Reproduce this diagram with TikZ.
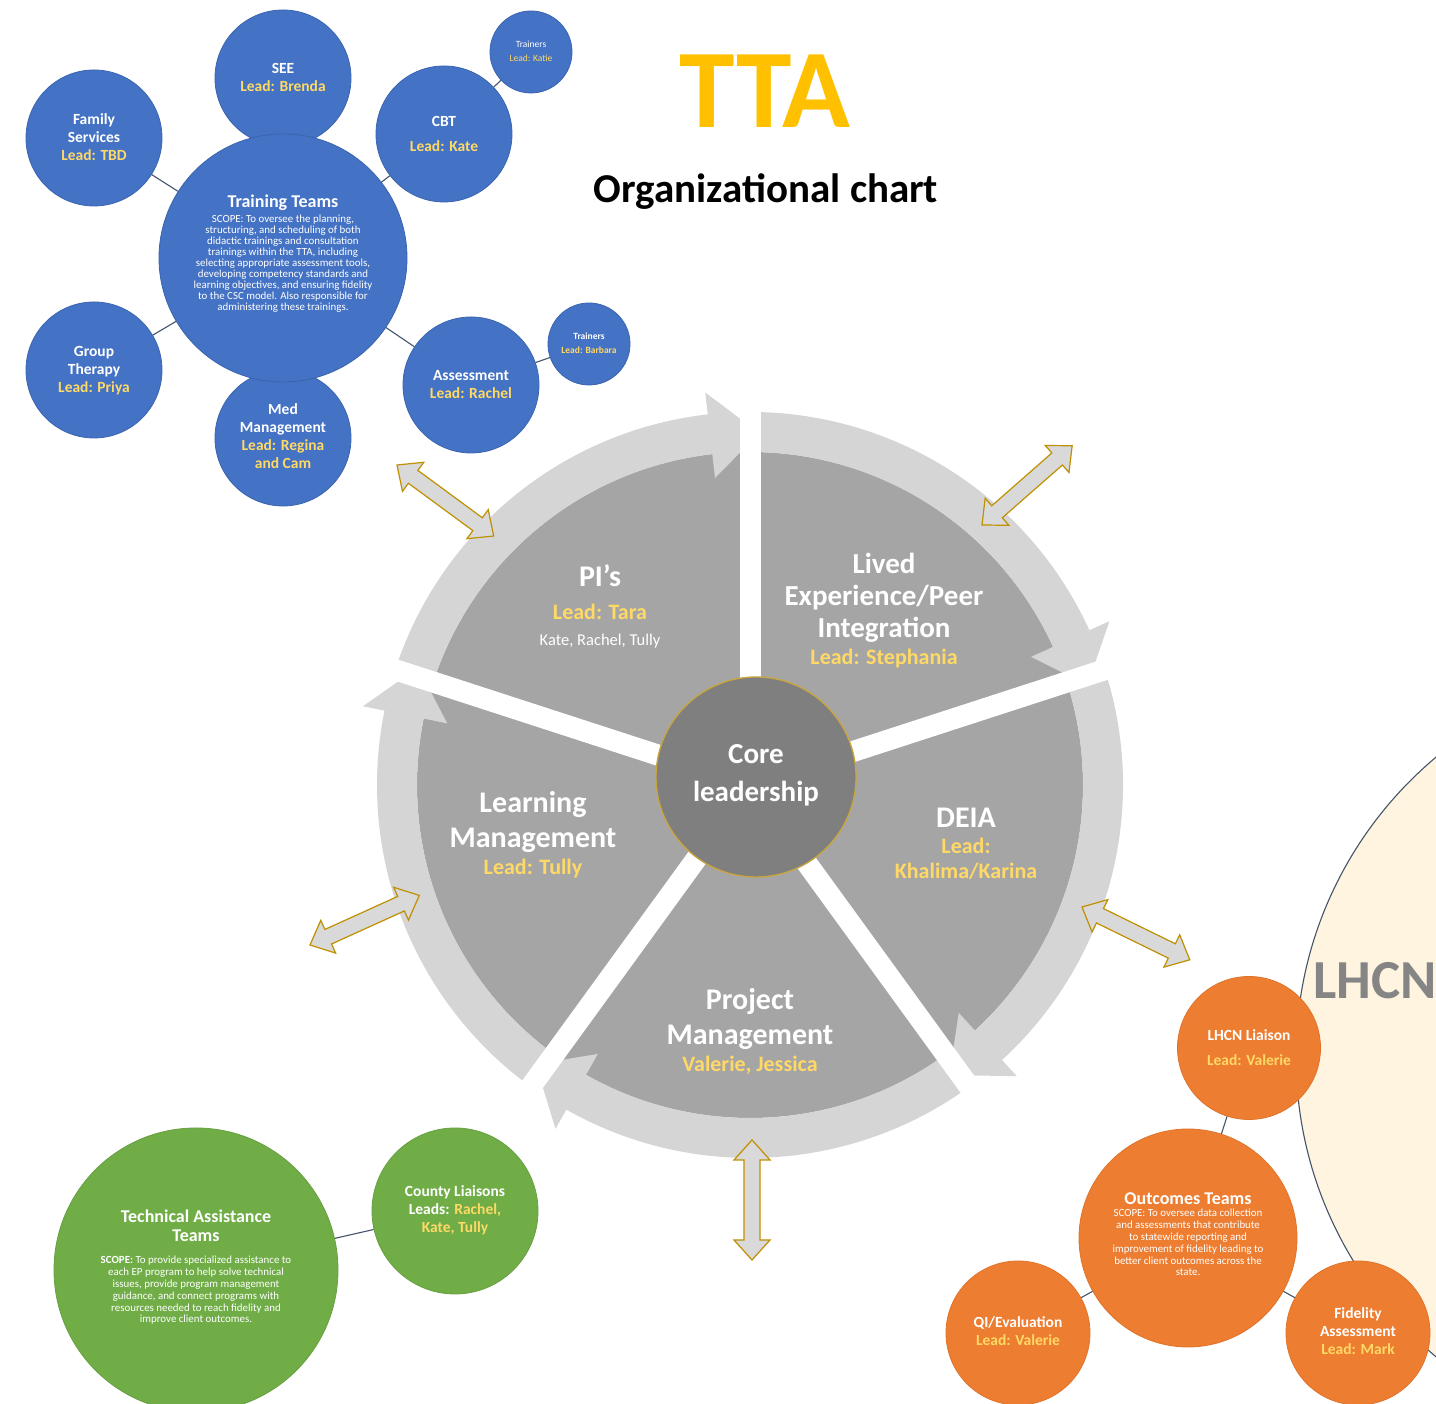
\documentclass[tikz,border=0pt]{standalone}
\usepackage{fontspec}
\setmainfont{Carlito}
\usetikzlibrary{calc}

\definecolor{tblue}{HTML}{4472C4}
\definecolor{tblueedge}{HTML}{3A64B0}
\definecolor{tgreen}{HTML}{70AD47}
\definecolor{tgreenedge}{HTML}{67A041}
\definecolor{torange}{HTML}{ED7D31}
\definecolor{torangeedge}{HTML}{E0732A}
\definecolor{tcream}{HTML}{FEF4DF}
\definecolor{tgold}{HTML}{FFC000}
\definecolor{leadyellow}{HTML}{FFD966}
\definecolor{sectorgray}{HTML}{A5A5A5}
\definecolor{bandgray}{HTML}{D5D5D5}
\definecolor{coregray}{HTML}{7F7F7F}
\definecolor{coreedge}{HTML}{C9A53C}
\definecolor{linkline}{HTML}{44546A}
\definecolor{arrowedge}{HTML}{BF9000}
\definecolor{arrowfill}{HTML}{D9D9D9}
\definecolor{lhcngray}{HTML}{858585}

\newcommand\lead[1]{\textcolor{leadyellow}{#1}}

% one arc of the cycle: band from angle #1 clockwise to angle #2, head at #2
\newcommand\cycband[2]{%
  \pgfmathsetmacro\hb{#2+6.5}%
  \pgfmathsetmacro\tp{#2-1.5}%
  \fill[bandgray, shift={(hub)}]
    (#1:373pt) arc[start angle=#1, end angle=\hb, radius=373pt]
    -- (\hb:395pt) -- (\tp:352pt) -- (\hb:309pt) -- (\hb:333pt)
    arc[start angle=\hb, end angle=#1, radius=333pt] -- cycle;}

% outlined two-headed block arrow: start point (#1,#2), direction #3
\newcommand\twoway[3]{%
  \begin{scope}[shift={(#1,#2)}, rotate=#3]
    \filldraw[twowayarrow] (0,0) -- (20,18) -- (20,8) -- (100,8) -- (100,18)
      -- (120,0) -- (100,-18) -- (100,-8) -- (20,-8) -- (20,-18) -- cycle;
  \end{scope}}

% multi-line text nodes sit on the baseline of their last line
\tikzset{
  disc/.style={circle, inner sep=0pt, minimum size=#1},
  bluedisc/.style={disc=#1, fill=tblue, draw=tblueedge, line width=0.8pt},
  greendisc/.style={disc=#1, fill=tgreen, draw=tgreenedge, line width=0.8pt},
  orangedisc/.style={disc=#1, fill=torange, draw=torangeedge, line width=0.8pt},
  tie/.style={draw=linkline, line width=1.1pt},
  disctext/.style={text=white, align=center, anchor=base, inner sep=0pt,
    font=\bfseries\fontsize{15.5}{18}\selectfont},
  smalltext/.style={text=white, align=center, anchor=base, inner sep=0pt,
    font=\bfseries\fontsize{9.5}{14}\selectfont},
  teamtitle/.style={text=white, align=center, anchor=base, inner sep=0pt,
    font=\bfseries\fontsize{18}{19}\selectfont},
  scopetext/.style={text=white, align=center, anchor=base, inner sep=0pt,
    font=\fontsize{10.9}{11.8}\selectfont},
  wedgetitle/.style={text=white, align=center, anchor=base, inner sep=0pt,
    font=\bfseries\fontsize{30}{35}\selectfont},
  wedgelead/.style={text=leadyellow, align=center, anchor=base, inner sep=0pt,
    font=\bfseries\fontsize{22}{25}\selectfont},
  twowayarrow/.style={fill=arrowfill, draw=arrowedge, line width=1.2pt, line join=miter},
}

\begin{document}
\begin{tikzpicture}[x=1pt, y=1pt]
\useasboundingbox (0,0) rectangle (1436,1404);
\fill[white] (0,0) rectangle (1436,1404);
\begin{scope}
\clip (0,0) rectangle (1436,1404);

% ---------- title ----------
\node[anchor=base, inner sep=0pt, text=tgold, font=\bfseries\fontsize{112}{114}\selectfont]
  (title) at (765,1276) {TTA};
\node[anchor=base, inner sep=0pt, font=\bfseries\fontsize{41}{44}\selectfont]
  (subtitle) at (766,1201) {Organizational chart};

% ---------- LHCN region ----------
\node[disc=782pt, fill=tcream, draw=linkline, line width=1.1pt] (lhcnzone) at (1687,347) {};
\node[anchor=base west, inner sep=0pt, text=lhcngray, font=\bfseries\fontsize{55}{60}\selectfont]
  (lhcnlabel) at (1313,405) {LHCN};

% ---------- cycle wheel ----------
\coordinate (hub) at (750,619);
\fill[sectorgray] (hub) circle[radius=333pt];
\cycband{162}{90}
\cycband{90}{18}
\cycband{18}{-54}
\cycband{-54}{-126}
\cycband{234}{162}
\foreach \a in {90,18,-54,-126,162}
  \draw[white, line width=21pt] (hub) -- ++(\a:405pt);
\node[disc=200pt, fill=coregray, draw=coreedge, line width=1.3pt] (core) at (756,627) {};
\node[text=white, align=center, anchor=base, inner sep=0pt,
  font=\bfseries\fontsize{29}{38}\selectfont] (coretext) at (756,602) {Core\\leadership};

\node[wedgetitle] (pisT) at (600,817) {PI’s};
\node[wedgelead] (pisL) at (600,784) {Lead: Tara};
\node[text=white, anchor=base, inner sep=0pt, font=\fontsize{16.5}{19}\selectfont]
  (pisM) at (600,758) {Kate, Rachel, Tully};

\node[wedgetitle, font=\bfseries\fontsize{29}{32}\selectfont] (livedT) at (884,766)
  {Lived\\Experience/Peer\\Integration};
\node[wedgelead] (livedL) at (884,739) {Lead: Stephania};

\node[wedgetitle] (deiaT) at (966,576) {DEIA};
\node[wedgelead] (deiaL) at (966,525) {Lead:\\Khalima/Karina};

\node[wedgetitle] (projT) at (750,359) {Project\\Management};
\node[wedgelead] (projL) at (750,332) {Valerie, Jessica};

\node[wedgetitle] (learnT) at (533,556) {Learning\\Management};
\node[wedgelead] (learnL) at (533,529) {Lead: Tully};

% ---------- two-way links between the wheel and the teams ----------
\twoway{397}{939}{-36.3}
\twoway{982}{879}{41.3}
\twoway{310}{459}{24.4}
\twoway{1082}{497}{-26.1}
\twoway{752}{144}{90}

% ---------- training teams ----------
\node[bluedisc=136pt] (see) at (283,1326) {};
\node[bluedisc=136pt] (family) at (94,1266) {};
\node[bluedisc=136pt] (cbt) at (444,1270) {};
\node[bluedisc=82pt] (trainersK) at (531,1352) {};
\node[bluedisc=136pt] (group) at (94,1034) {};
\node[bluedisc=136pt] (med) at (283,966) {};
\node[bluedisc=136pt] (assess) at (471,1019) {};
\node[bluedisc=82pt] (trainersB) at (589,1060) {};
\node[bluedisc=248pt] (training) at (283,1146) {};

\draw[tie] (training) -- (family);
\draw[tie] (training) -- (cbt);
\draw[tie] (cbt) -- (trainersK);
\draw[tie] (training) -- (group);
\draw[tie] (training) -- (assess);
\draw[tie] (assess) -- (trainersB);

\node[disctext] (seeT) at (283,1312) {SEE\\\lead{Lead: Brenda}};
\node[disctext] (familyT) at (94,1243) {Family\\Services\\\lead{Lead: TBD}};
\node[disctext] (cbtT) at (444,1252) {CBT\\[7pt]\lead{Lead: Kate}};
\node[smalltext, font=\fontsize{9.5}{14}\selectfont] (trainersKT) at (531,1342)
  {Trainers\\\lead{Lead: Katie}};
\node[disctext] (groupT) at (94,1011) {Group\\Therapy\\\lead{Lead: Priya}};
\node[disctext] (medT) at (283,935) {Med\\Management\\\lead{Lead: Regina}\\\lead{and Cam}};
\node[disctext] (assessT) at (471,1005) {Assessment\\\lead{Lead: Rachel}};
\node[smalltext] (trainersBT) at (589,1050) {Trainers\\\lead{Lead: Barbara}};

\node[teamtitle] (trainingT) at (283,1196) {Training Teams};
\node[scopetext, font=\fontsize{10.9}{11}\selectfont] (trainingS) at (283,1093)
  {SCOPE: To oversee the planning,\\
   structuring, and scheduling of both\\
   didactic trainings and consultation\\
   trainings within the TTA, including\\
   selecting appropriate assessment tools,\\
   developing competency standards and\\
   learning objectives, and ensuring fidelity\\
   to the CSC model. Also responsible for\\
   administering these trainings.};

% ---------- technical assistance ----------
\node[greendisc=284pt] (ta) at (196,134) {};
\node[greendisc=166pt] (county) at (455,193) {};
\draw[tie] (ta) -- (county);
\node[teamtitle] (taT) at (196,162) {Technical Assistance\\Teams};
\node[scopetext] (taS) at (196,81)
  {\textbf{SCOPE:} To provide specialized assistance to\\
   each EP program to help solve technical\\
   issues, provide program management\\
   guidance, and connect programs with\\
   resources needed to reach fidelity and\\
   improve client outcomes.};
\node[disctext] (countyT) at (455,171) {County Liaisons\\Leads: \lead{Rachel,}\\\lead{Kate, Tully}};

% ---------- outcomes ----------
\node[orangedisc=143pt] (liaison) at (1249,356) {};
\node[orangedisc=218pt] (outcomes) at (1188,166) {};
\node[orangedisc=144pt] (qi) at (1018,71) {};
\node[orangedisc=144pt] (fidelity) at (1358,71) {};
\draw[tie] (liaison) -- (outcomes);
\draw[tie] (outcomes) -- (qi);
\draw[tie] (outcomes) -- (fidelity);

\node[disctext] (liaisonT) at (1249,338) {LHCN Liaison\\[7pt]\lead{Lead: Valerie}};
\node[teamtitle] (outcomesT) at (1188,199) {Outcomes Teams};
\node[scopetext] (outcomesS) at (1188,128)
  {SCOPE: To oversee data collection\\
   and assessments that contribute\\
   to statewide reporting and\\
   improvement of fidelity leading to\\
   better client outcomes across the\\
   state.};
\node[disctext] (qiT) at (1018,58) {QI/Evaluation\\\lead{Lead: Valerie}};
\node[disctext] (fidelityT) at (1358,49) {Fidelity\\Assessment\\\lead{Lead: Mark}};

\end{scope}
\end{tikzpicture}
\end{document}
